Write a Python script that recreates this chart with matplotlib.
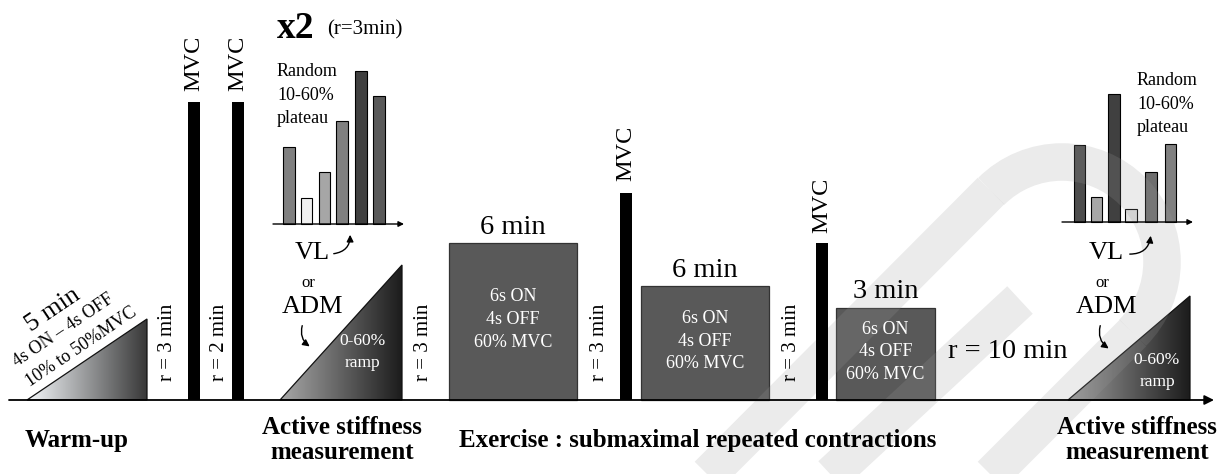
import matplotlib.pyplot as plt
import numpy as np
from matplotlib.patches import Polygon, Rectangle, FancyArrowPatch, Arc
from matplotlib.colors import LinearSegmentedColormap

plt.rcParams['font.family'] = ['Liberation Serif', 'DejaVu Serif']

# --- protocol data (heights in figure units above the time axis) ---
mvc_x = [194, 238, 626, 822]
mvc_height = [298, 298, 207, 157]

rest_labels = ['r = 3 min', 'r = 2 min', 'r = 3 min', 'r = 3 min', 'r = 3 min']
rest_x = [168, 219, 423, 600, 792]

box_left = [449, 641, 836]
box_right = [577, 769, 935]
box_height = [157, 114, 92]
box_duration = ['6 min', '6 min', '3 min']
box_text = '6s ON\n4s OFF\n60% MVC'

# random plateau mini-charts (two repetitions)
plateau_left_x = [289, 306.5, 324.5, 342, 361, 379]
plateau_left_h = [77, 26, 52, 103, 153, 128]
plateau_left_c = ['#808080', '#f0f0f0', '#a6a6a6', '#808080', '#404040', '#595959']
plateau_right_x = [1079.5, 1096.5, 1114, 1131, 1151, 1170.5]
plateau_right_h = [77, 25, 128, 13, 50, 78]
plateau_right_c = ['#4d4d4d', '#a6a6a6', '#404040', '#e0e0e0', '#6e6e6e', '#808080']

phase_labels = ['Warm-up', 'Active stiffness\nmeasurement',
                'Exercise : submaximal repeated contractions',
                'Active stiffness\nmeasurement']
phase_x = [77, 342, 698, 1137]


fig = plt.figure(figsize=(12.22, 4.74), dpi=100)
ax = fig.add_axes([0, 0, 1, 1])
ax.set_xlim(0, 1222)
ax.set_ylim(-74, 400)
ax.axis('off')


def gradient_triangle(x0, x1, h, c0, c1):
    tri = Polygon([[x0, 0], [x1, 0], [x1, h]], closed=True,
                  facecolor='none', edgecolor='#111111', lw=0.9, zorder=3)
    ax.add_patch(tri)
    cmap = LinearSegmentedColormap.from_list('g', [c0, c1])
    grad = np.linspace(0, 1, 256).reshape(1, -1)
    im = ax.imshow(grad, cmap=cmap, extent=[x0, x1, 0, h], aspect='auto',
                   zorder=2, interpolation='bilinear')
    im.set_clip_path(tri)


# time axis
ax.annotate('', xy=(1214, 0), xytext=(9, 0),
            arrowprops=dict(arrowstyle='-|>', lw=1.3, color='black',
                            mutation_scale=14, shrinkA=0, shrinkB=0))

# warm-up ramp
gradient_triangle(27, 147, 81, '#f5f8fb', '#383838')
ax.text(53, 90, '5 min', rotation=34, fontsize=19, ha='center', va='center')
ax.text(63, 70, '4s ON \u2013 4s OFF', rotation=34, fontsize=13,
        ha='center', va='center')
ax.text(81, 53, '10% to 50%MVC', rotation=34, fontsize=13,
        ha='center', va='center')

# rest periods
for x, lab in zip(rest_x, rest_labels):
    ax.text(x, 58, lab, rotation=90, fontsize=15, ha='center', va='center')

# MVC bars
ax.bar(mvc_x, mvc_height, width=11.5, color='black', zorder=6)
mvc_text_y = [337, 337, 247, 195]
for x, h, ty in zip(mvc_x, mvc_height, mvc_text_y):
    ax.text(x, ty, 'MVC', rotation=90, fontsize=17.5, ha='center', va='center')

# exercise blocks
for l, r, h, d in zip(box_left, box_right, box_height, box_duration):
    ax.add_patch(Rectangle((l, 0), r - l, h, facecolor='#595959',
                           edgecolor='#333333', lw=0.9, zorder=3))
    ax.text((l + r) / 2, h + 16, d, fontsize=20.5, ha='center', va='center')
    ax.text((l + r) / 2, h / 2 + 2, box_text,
            fontsize=13, color='white', ha='center', va='center',
            linespacing=1.45)

ax.text(1008, 48, 'r = 10 min', fontsize=20.5, ha='center', va='center')

# active stiffness ramps
gradient_triangle(280, 402, 135, '#a8a8a8', '#1c1c1c')
ax.text(362, 48, '0-60%\nramp', fontsize=12.5, color='white',
        ha='center', va='center', linespacing=1.45)
gradient_triangle(1068, 1190, 104, '#a0a0a0', '#1c1c1c')
ax.text(1157, 29, '0-60%\nramp', fontsize=12.5, color='white',
        ha='center', va='center', linespacing=1.45)


def muscle_labels(cx, arrow_up, arrow_down):
    ax.text(cx, 147, 'VL', fontsize=19, ha='center', va='center')
    ax.text(cx - 4, 117, 'or', fontsize=12, ha='center', va='center')
    ax.text(cx, 93, 'ADM', fontsize=19, ha='center', va='center')
    ax.add_patch(FancyArrowPatch(arrow_up[0], arrow_up[1],
                                 connectionstyle='arc3,rad=0.5',
                                 arrowstyle='-|>', mutation_scale=10,
                                 lw=1, color='black', zorder=6))
    ax.add_patch(FancyArrowPatch(arrow_down[0], arrow_down[1],
                                 connectionstyle='arc3,rad=0.4',
                                 arrowstyle='-|>', mutation_scale=10,
                                 lw=1, color='black', zorder=6))


muscle_labels(312, ((331, 146), (350, 168)), ((303, 77), (312, 52)))
muscle_labels(1106, ((1127, 146), (1151, 167)), ((1101, 77), (1111, 50)))


def plateau_chart(xs, hs, cs, base, x0, x1):
    ax.bar(xs, hs, width=11.5, bottom=base, color=cs, edgecolor='black',
           lw=0.8, zorder=3)
    ax.annotate('', xy=(x1, base), xytext=(x0, base),
                arrowprops=dict(arrowstyle='-|>', lw=1, color='black',
                                mutation_scale=8, shrinkA=0, shrinkB=0))


plateau_chart(plateau_left_x, plateau_left_h, plateau_left_c, 176, 273, 404)
ax.text(277, 337, 'Random\n10-60%\nplateau', fontsize=13, ha='left',
        va='top', linespacing=1.5)
plateau_chart(plateau_right_x, plateau_right_h, plateau_right_c, 178, 1062, 1193)
ax.text(1137, 328, 'Random\n10-60%\nplateau', fontsize=13, ha='left',
        va='top', linespacing=1.5)

ax.text(277, 372, 'x2', fontsize=27, fontweight='bold', ha='left', va='center')
ax.text(327, 370, '(r=3min)', fontsize=15, ha='left', va='center')

# phase labels
for x, lab in zip(phase_x, phase_labels):
    ax.text(x, -40, lab, fontsize=18, fontweight='bold', ha='center',
            va='center', linespacing=1.15)

# keep all text above the faint watermark
for t in ax.texts:
    t.set_zorder(6)

# faint watermark stamp in the background
wm = dict(color='#9b9b9b', alpha=0.2, lw=27, solid_capstyle='butt', zorder=4)
ax.plot([700, 991], [400 - 483, 400 - 191], **wm)
ax.add_patch(Arc((1062, 400 - 262), 200, 200, theta1=-45, theta2=135,
                 color='#9b9b9b', alpha=0.2, lw=27, zorder=4))
ax.plot([1133, 990], [400 - 333, 400 - 476], **wm)
ax.plot([830, 1020], [400 - 476, 400 - 300], **wm)

fig.savefig('out.png', dpi=100)
